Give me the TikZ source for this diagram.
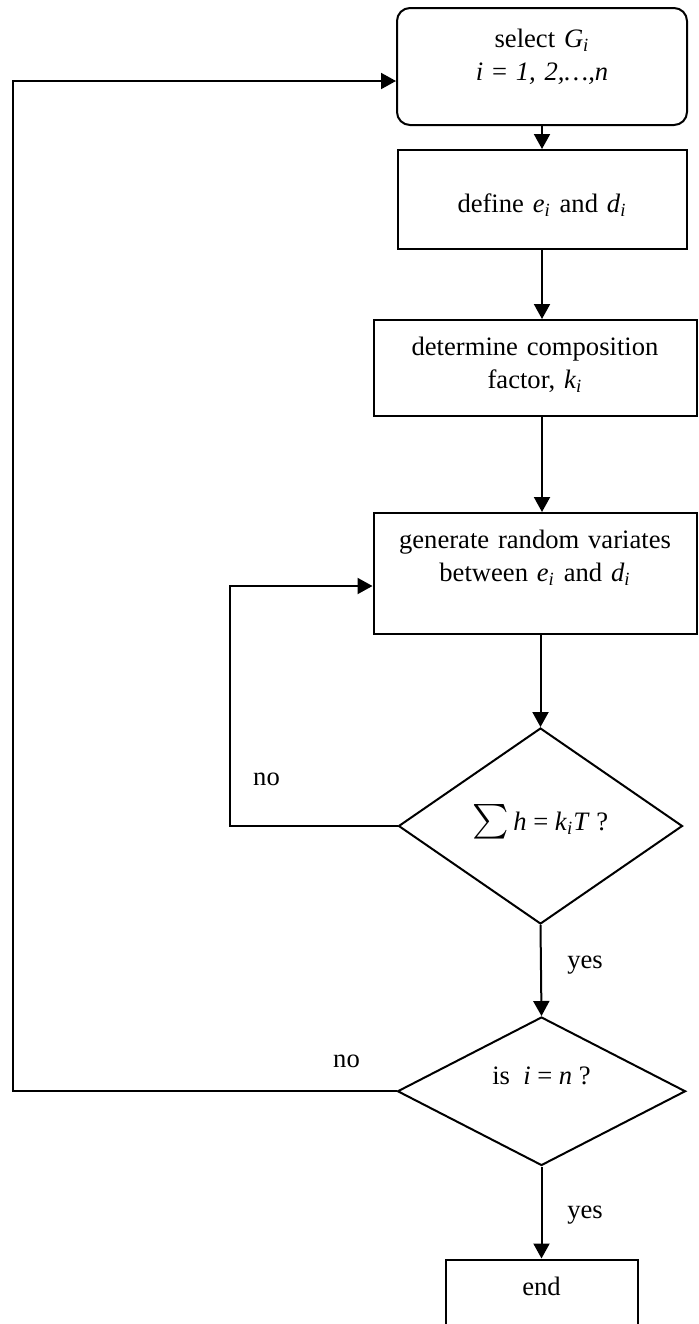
\documentclass[tikz,border=0pt]{standalone}
\usepackage{amsmath}
\usepackage{fontspec}
\setmainfont{Liberation Serif}
\usepackage{tikz}
\usetikzlibrary{shapes,arrows,positioning,calc}
\usetikzlibrary{arrows.meta}
\tikzset{>={Triangle[width=8pt,length=7.5pt]}}

\begin{document}
\begin{tikzpicture}[x=0.5pt, y=-0.5pt, line width=1pt, font=\fontsize{13.3}{16.5}\selectfont,
    box/.style={rectangle, draw, inner sep=0pt, align=center},
    decision/.style={diamond, draw, inner sep=0pt, align=center}]
    \useasboundingbox (0,0) rectangle (699,1324);
    \clip (0,0) rectangle (699,1324);

    \node[box, rounded corners=6.5pt, text width=145pt, text height=19.5pt, text depth=39pt] (select) at (542,66.5)
        {select \textit{G}\textsubscript{\textit{i}}\\ \textit{i} = \textit{1, 2,…,n}};
    \node[box, below=11.5pt of select, text width=144.5pt, text height=31pt, text depth=18.5pt] (define)
        {define \textit{e}\textsubscript{\textit{i}} and \textit{d}\textsubscript{\textit{i}}};
    \node[box, below=34.5pt of define, xshift=-3.5pt, text width=161.5pt, text height=17.5pt, text depth=30.5pt] (determine)
        {determine composition\\ factor, \textit{k}\textsubscript{\textit{i}}};
    \node[box, below=47.5pt of determine, text width=161.5pt, text height=17.5pt, text depth=43pt] (generate)
        {generate random variates\\ between \textit{e}\textsubscript{\textit{i}} and \textit{d}\textsubscript{\textit{i}}};
    \node[decision, below=46pt of generate, xshift=2.75pt, minimum width=142pt, minimum height=98pt, text height=9pt, text depth=5pt] (check)
        {{\fontsize{16}{16}\selectfont$\textstyle\sum$}\kern2pt\textit{h} = \textit{k}\textsubscript{\textit{i}}\textit{T} ?};
    \node[decision, below=45.5pt of check, xshift=0.5pt, minimum width=144pt, minimum height=73pt, text height=9pt, text depth=16pt] (last)
        {is~ \textit{i} = \textit{n} ?};
    \node[box, below=46pt of last, text width=96pt, text height=18pt, text depth=32pt] (end) {end};

    \node[anchor=base] (noa) at (266.5,785) {no};
    \node[anchor=base] (nob) at (346.5,1067) {no};
    \node[anchor=base] (yesa) at (585,968) {yes};
    \node[anchor=base] (yesb) at (585,1218) {yes};

    \coordinate (backa) at (230,586);
    \coordinate (backb) at (13,81);

    \draw[->] (select) -- (define);
    \draw[->] (define) -- (define |- determine.north);
    \draw[->] (determine.south -| define) -- (generate.north -| define);
    \draw[->] (generate.south -| check) -- (check.north);
    \draw[->] (check.south) -- (last.north);
    \draw[->] (last.south) -- (end.north);
    \draw[->] (check.west) -| (backa) -- (backa -| generate.west);
    \draw[->] (last.west) -| (backb) -- (backb -| select.west);
\end{tikzpicture}
\end{document}
